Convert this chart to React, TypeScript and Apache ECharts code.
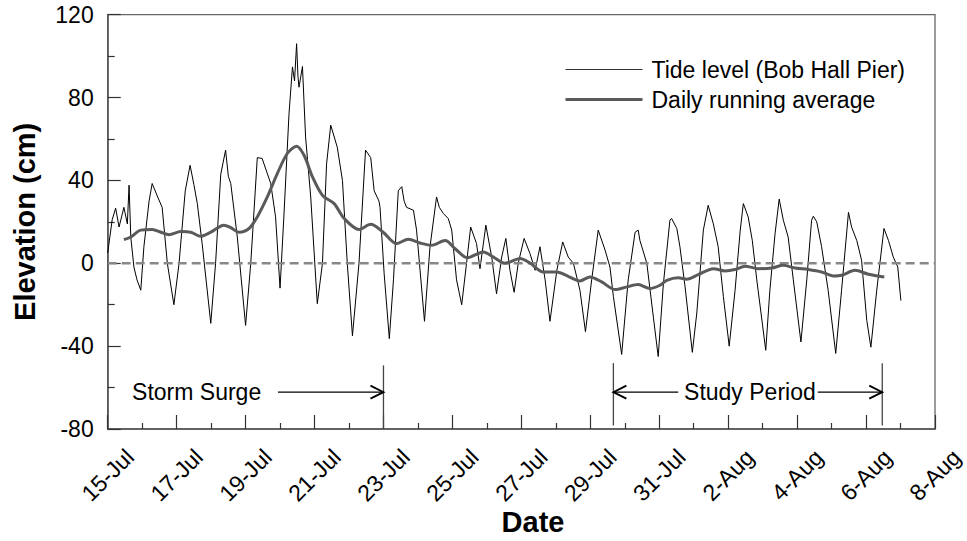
import React, { useEffect, useRef } from "react";
import * as echarts from "echarts";

// x values are days since 15-Jul 00:00
const DATE_LABELS = [
  "15-Jul", "17-Jul", "19-Jul", "21-Jul", "23-Jul", "25-Jul", "27-Jul",
  "29-Jul", "31-Jul", "2-Aug", "4-Aug", "6-Aug", "8-Aug",
];

const TIDE_NAME = "Tide level (Bob Hall Pier)";
const AVG_NAME = "Daily running average";

// Tide level (cm)
const TIDE_LEVEL: [number, number][] = [
  [0, 5], [0.13, 21], [0.23, 26.6], [0.33, 17.5], [0.47, 27], [0.57, 19], [0.62, 37.7],
  [0.67, 12.7], [0.76, -1.8], [0.85, -8], [0.96, -13], [1.05, 8], [1.2, 30], [1.29, 38.5],
  [1.45, 32], [1.58, 27], [1.73, 0], [1.92, -20], [2.07, 0], [2.25, 35], [2.39, 47.3],
  [2.5, 38], [2.6, 28.8], [2.74, 9.5], [2.99, -29], [3.13, 0], [3.28, 43], [3.42, 54.6],
  [3.5, 42], [3.57, 38.5], [3.76, 12.7], [4.0, -30], [4.15, 0], [4.34, 51], [4.48, 50.6],
  [4.73, 38.5], [4.87, 22.4], [5.0, -12], [5.11, 22.4], [5.26, 72.3], [5.36, 94.8],
  [5.42, 88], [5.48, 106], [5.52, 90], [5.55, 85], [5.65, 95], [5.74, 61], [5.89, 32],
  [6.08, -19.5], [6.23, 0], [6.35, 48], [6.47, 66.7], [6.66, 56], [6.81, 40], [6.95, 0],
  [7.1, -35], [7.29, 0], [7.48, 54.6], [7.63, 51], [7.73, 35], [7.87, 30], [7.9, 27],
  [8.02, -5], [8.17, -36.4], [8.29, -8], [8.43, 35], [8.53, 37], [8.6, 30], [8.67, 27],
  [8.87, 25.6], [8.96, 16], [9.19, -28], [9.35, 8], [9.54, 32], [9.62, 27], [9.74, 24],
  [9.88, 21.6], [9.98, 16], [10.12, -8], [10.27, -20], [10.41, 0], [10.53, 17.5],
  [10.7, 9.5], [10.8, -2.6], [10.97, 18.4], [11.14, 3], [11.28, -14.7], [11.43, 3],
  [11.55, 12], [11.67, -3.4], [11.79, -14], [11.91, 0], [12.08, 12], [12.25, 4.7],
  [12.4, -3.4], [12.54, 8], [12.69, -8], [12.83, -28], [13.03, -3.4], [13.2, 10.3],
  [13.36, 3], [13.51, 0], [13.7, -13], [13.86, -33], [14.04, -8], [14.23, 16], [14.43, 6.3],
  [14.57, -1.8], [14.67, -16], [14.91, -44], [15.1, -8], [15.3, 15], [15.39, 16],
  [15.44, 11], [15.64, 0], [15.83, -26], [15.97, -45], [16.12, -10], [16.31, 20.8],
  [16.36, 21.6], [16.51, 16.8], [16.6, 8], [16.75, -11.4], [16.96, -43], [17.09, -24],
  [17.28, 16], [17.42, 28], [17.57, 19], [17.71, 8], [17.86, -16], [18.03, -40],
  [18.2, -13], [18.35, 16], [18.44, 28.8], [18.58, 22.4], [18.7, 11], [18.83, -8],
  [19.09, -42], [19.21, -13], [19.36, 14.3], [19.48, 31], [19.6, 20.8], [19.74, 12.7],
  [19.89, -8], [20.11, -38], [20.28, -8], [20.42, 20.8], [20.47, 22.7], [20.57, 20],
  [20.71, 8], [20.9, -13], [21.12, -43.5], [21.29, -13], [21.49, 24.6], [21.58, 17.5],
  [21.73, 11], [21.87, 1.5], [22.02, -27.5], [22.14, -40.5], [22.31, -13], [22.52, 16.8],
  [22.65, 11], [22.79, 3], [22.92, -1.8], [23.01, -18],
];

// Daily running average (cm)
const RUNNING_AVG: [number, number][] = [
  [0.47, 11.4], [0.67, 12.7], [0.96, 16], [1.29, 16.3], [1.54, 15], [1.78, 13.8],
  [2.12, 15.3], [2.41, 15], [2.7, 13], [2.99, 15], [3.37, 18.4], [3.57, 17.2], [3.81, 15],
  [4.1, 16.8], [4.34, 22.4], [4.63, 32], [4.92, 43.3], [5.21, 53], [5.48, 56.5], [5.7, 52],
  [5.94, 41.7], [6.23, 32.8], [6.57, 28.8], [6.86, 21.6], [7.29, 16.3], [7.63, 18.8],
  [7.99, 15], [8.38, 9.5], [8.72, 11.6], [9.06, 9.8], [9.4, 8.7], [9.79, 11], [10.08, 7],
  [10.43, 2.7], [10.9, 5.5], [11.19, 3], [11.53, 0], [11.96, 2.3], [12.25, 0.1],
  [12.64, -4.2], [13.03, -4.2], [13.36, -6.3], [13.7, -8.5], [13.99, -6.6], [14.33, -9],
  [14.72, -12.7], [15.06, -11.4], [15.39, -10.3], [15.73, -12.2], [16.02, -10.6],
  [16.22, -8.2], [16.55, -7], [16.8, -7.7], [17.13, -5.5], [17.57, -2.6], [17.91, -3.7],
  [18.2, -3], [18.49, -1.4], [18.87, -2.6], [19.26, -2.3], [19.6, -1], [19.94, -2.3],
  [20.32, -3], [20.71, -4.2], [21.05, -6.1], [21.29, -5.8], [21.68, -3.4], [22.07, -5.3],
  [22.53, -6.6],
];

const ZERO_LINE: [number, number][] = [[0, 0], [24, 0]];

// Period markers: [day, top cm, bottom cm]
const PERIOD_MARKERS: [number, number, number][] = [
  [8, -49.3, -80],
  [14.67, -48.2, -78.3],
  [22.47, -48.2, -78.3],
];
// Arrows: [tail day, head day, cm]
const PERIOD_ARROWS: [number, number, number][] = [
  [4.94, 8, -62.2],
  [16.55, 14.67, -62.2],
  [20.52, 22.47, -62.2],
];
const NOTE_TEXT = ["Storm Surge", "Study Period"];
const NOTE_POS: [number, number][] = [[2.58, -62.2], [18.63, -62.2]];

const FONT = "'Liberation Sans', Arial, Helvetica, sans-serif";
const FS = 23;

export default function App() {
  const ref = useRef<HTMLDivElement>(null);

  useEffect(() => {
    if (!ref.current) return;
    const chart = echarts.init(ref.current, undefined, { renderer: "svg" });

    const option: any = {
      animation: false,
      backgroundColor: "#fff",
      textStyle: { fontFamily: FONT },
      grid: {
        left: 107.7,
        top: 14.7,
        right: 32,
        bottom: 112,
        containLabel: false,
        outerBoundsMode: "none",
        show: true,
        borderColor: "#666",
        borderWidth: 1.3,
      },
      // x-axis title
      graphic: [
        {
          type: "text",
          x: 533,
          y: 522,
          silent: true,
          style: {
            text: "Date",
            fill: "#000",
            fontSize: 29,
            fontWeight: "bold",
            fontFamily: FONT,
            align: "center",
            verticalAlign: "middle",
          },
        },
      ],
      legend: {
        data: [
          { name: TIDE_NAME, lineStyle: { width: 1, color: "#333" } },
          { name: AVG_NAME, lineStyle: { width: 3, color: "#5a5a5a" } },
        ],
        orient: "vertical",
        left: 559,
        top: 53,
        itemWidth: 77,
        itemHeight: 14,
        itemGap: 7,
        itemStyle: { opacity: 0 },
        textStyle: {
          fontSize: FS,
          color: "#000",
          fontFamily: FONT,
          padding: [0, 0, 0, 4],
        },
      },
      xAxis: {
        type: "value",
        min: 0,
        max: 24,
        interval: 2,
        axisLine: { show: true, onZero: false, lineStyle: { color: "#555", width: 1.6 } },
        axisTick: { show: true, inside: true, length: 14, lineStyle: { color: "#333", width: 1.2 } },
        minorTick: { show: true, splitNumber: 2, length: 6, lineStyle: { color: "#333", width: 1.2 } },
        splitLine: { show: false },
        axisLabel: {
          rotate: 45,
          align: "center",
          verticalAlign: "middle",
          margin: 46,
          fontSize: FS,
          color: "#000",
          fontFamily: FONT,
          showMinLabel: true,
          showMaxLabel: true,
          formatter: (v: number) => DATE_LABELS[Math.round(v / 2)] ?? "",
        },
      },
      yAxis: {
        type: "value",
        min: -80,
        max: 120,
        interval: 40,
        name: "Elevation (cm)",
        nameLocation: "middle",
        nameGap: 68,
        nameTextStyle: {
          fontSize: 29,
          fontWeight: "bold",
          color: "#000",
          fontFamily: FONT,
        },
        axisLine: { show: true, onZero: false, lineStyle: { color: "#555", width: 1.6 } },
        axisTick: { show: true, inside: true, length: 13, lineStyle: { color: "#333", width: 1.2 } },
        minorTick: { show: true, splitNumber: 2, length: 7, lineStyle: { color: "#333", width: 1.2 } },
        splitLine: { show: false },
        axisLabel: { fontSize: FS, color: "#000", margin: 14, fontFamily: FONT },
      },
      series: [
        {
          name: TIDE_NAME,
          type: "line",
          data: TIDE_LEVEL,
          symbol: "none",
          showSymbol: false,
          lineStyle: { color: "#000", width: 1 },
          itemStyle: { color: "#000" },
          z: 2,
        },
        {
          name: "zero",
          type: "line",
          data: ZERO_LINE,
          symbol: "none",
          showSymbol: false,
          silent: true,
          lineStyle: { color: "#888", width: 2.4, type: [9, 5] },
          z: 3,
        },
        {
          name: AVG_NAME,
          type: "line",
          data: RUNNING_AVG,
          symbol: "none",
          showSymbol: false,
          smooth: 0.3,
          lineStyle: { color: "#5a5a5a", width: 3 },
          itemStyle: { color: "#5a5a5a" },
          z: 4,
        },
        {
          name: "markers",
          type: "custom",
          silent: true,
          data: PERIOD_MARKERS,
          z: 5,
          renderItem: (_p: any, api: any) => {
            const a = api.coord([api.value(0), api.value(1)]);
            const b = api.coord([api.value(0), api.value(2)]);
            return {
              type: "line",
              shape: { x1: a[0], y1: a[1], x2: b[0], y2: b[1] },
              style: { stroke: "#444", lineWidth: 1.3 },
            };
          },
        },
        {
          name: "arrows",
          type: "custom",
          silent: true,
          data: PERIOD_ARROWS,
          z: 5,
          renderItem: (_p: any, api: any) => {
            const t = api.coord([api.value(0), api.value(2)]);
            const h = api.coord([api.value(1), api.value(2)]);
            const d = h[0] > t[0] ? 1 : -1;
            return {
              type: "group",
              children: [
                {
                  type: "line",
                  shape: { x1: t[0], y1: t[1], x2: h[0], y2: h[1] },
                  style: { stroke: "#000", lineWidth: 1.1 },
                },
                {
                  type: "polyline",
                  shape: {
                    points: [
                      [h[0] - d * 13, h[1] - 6.5],
                      [h[0], h[1]],
                      [h[0] - d * 13, h[1] + 6.5],
                    ],
                  },
                  style: { stroke: "#000", lineWidth: 1.8, fill: "none" },
                },
              ],
            };
          },
        },
        {
          name: "notes",
          type: "custom",
          silent: true,
          data: NOTE_POS,
          z: 6,
          renderItem: (p: any, api: any) => {
            const c = api.coord([api.value(0), api.value(1)]);
            return {
              type: "text",
              x: c[0],
              y: c[1],
              style: {
                text: NOTE_TEXT[p.dataIndex],
                fill: "#000",
                fontSize: FS,
                fontFamily: FONT,
                align: "center",
                verticalAlign: "middle",
                backgroundColor: "#fff",
                padding: [0, 2],
              },
            };
          },
        },
      ],
    };

    chart.setOption(option);
    return () => chart.dispose();
  }, []);

  return (
    <div
      ref={ref}
      style={{ position: "fixed", left: 0, top: 0, width: 967, height: 541, background: "#fff" }}
    />
  );
}
